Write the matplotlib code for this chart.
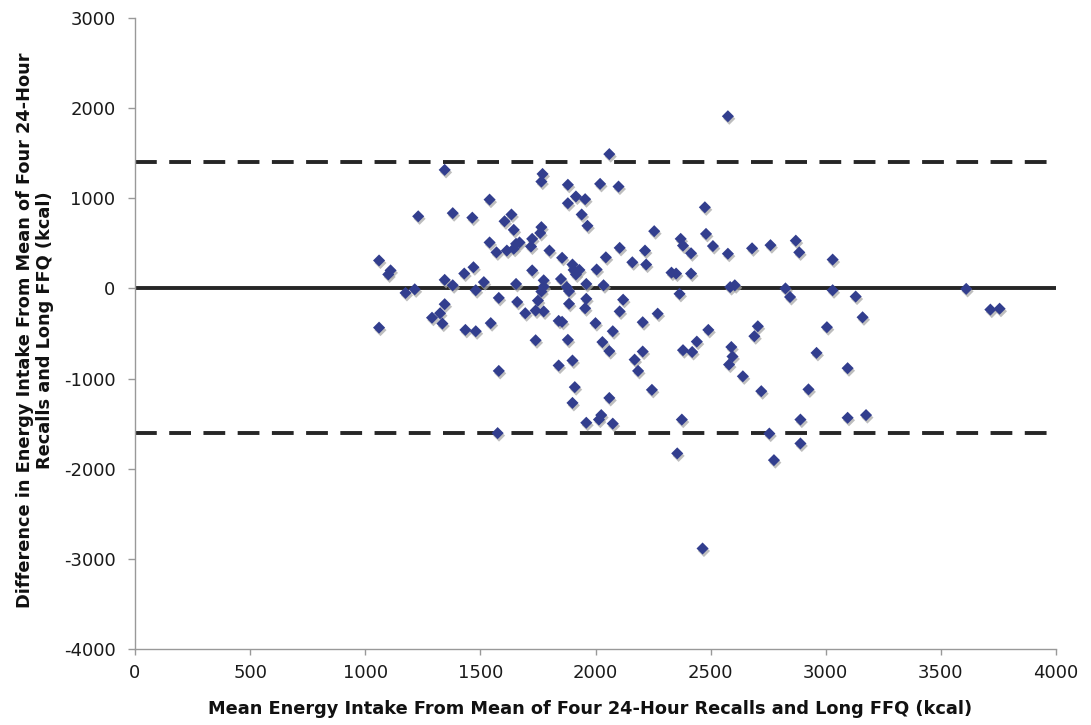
import matplotlib
matplotlib.use("Agg")
import matplotlib.pyplot as plt
import matplotlib.patheffects as pe
import numpy as np

# Bland-Altman: media de energía (x) vs diferencia (y), kcal
media_kcal = [
    2060, 1345, 1770, 1765, 1880, 2020, 2100, 1540, 1915, 1955,
    1880, 1230, 1380, 1465, 1635, 1605, 1940, 1965, 1645, 1765,
    1760, 1540, 1570, 1615, 1645, 1655, 1670, 1725, 1720, 1800,
    1855, 1060, 1110, 1100, 1900, 1905, 1930, 1915, 1725, 2005,
    2045, 2105, 1470, 1430, 1345, 1380, 1515, 1655, 1775, 1775,
    1850, 1875, 1885, 1960, 2035, 1215, 1175, 1480, 1765,
    1345, 1325, 1290, 1335, 1060, 1435, 1480, 1545, 1580, 1660,
    1695, 1740, 1750, 1775, 1840, 1855, 1885, 1960, 1955, 2000,
    2105, 2075, 1740, 1880, 2030, 2060, 1580, 1840, 1900, 1910,
    1900, 2060, 1960, 2025, 2015, 2075, 1575,
    2575, 2475, 2255, 2480, 2510, 2370, 2380, 2415, 2215, 2160,
    2220, 2575, 2680, 2760, 2870, 2885, 3030, 2330, 2350, 2415,
    2365, 2585, 2605, 2825, 2845, 3030, 3130, 2120,
    2205, 2270, 2170, 2205, 2185, 2245, 2375, 2355, 2380, 2420,
    2440, 2490, 2590, 2595, 2580, 2640, 2705, 2690, 2720, 2755,
    2775, 3005, 2960, 2925, 2890, 2890, 3095, 3160, 3095, 3175,
    3610, 3715, 3755, 2465,
]
diferencia_kcal = [
    1490, 1315, 1270, 1185, 1150, 1160, 1130, 985, 1020, 990,
    945, 800, 835, 785, 820, 745, 820, 695, 650, 680,
    615, 510, 400, 420, 440, 495, 510, 550, 465, 420,
    340, 310, 200, 155, 265, 205, 205, 155, 200, 210,
    345, 450, 235, 165, 95, 35, 70, 50, 90, 20,
    105, 15, -30, 50, 35, -10, -50, -20, -35,
    -175, -275, -325, -390, -435, -460, -475, -385, -105, -150,
    -275, -245, -135, -255, -360, -370, -170, -115, -220, -385,
    -255, -475, -575, -570, -595, -695, -915, -855, -800, -1095,
    -1270, -1215, -1490, -1405, -1455, -1500, -1605,
    1910, 900, 635, 605, 470, 550, 475, 390, 420, 290,
    265, 385, 445, 480, 530, 400, 320, 175, 165, 165,
    -60, 15, 35, 0, -95, -20, -90, -125,
    -375, -280, -790, -700, -915, -1125, -1455, -1830, -685, -705,
    -590, -460, -650, -755, -845, -975, -420, -530, -1140, -1610,
    -1905, -430, -715, -1120, -1455, -1720, -885, -320, -1435, -1405,
    -5, -235, -225, -2885,
]

sesgo = 0
limite_sup = 1400
limite_inf = -1600

x_ticks = [0, 500, 1000, 1500, 2000, 2500, 3000, 3500, 4000]
y_ticks = [-4000, -3000, -2000, -1000, 0, 1000, 2000, 3000]

fig = plt.figure(figsize=(10.91, 7.25), dpi=100)
ax = fig.add_axes([135 / 1091, 1 - 649 / 725, (1056 - 135) / 1091, (649 - 18) / 725])

color_linea = "#262626"
ax.axhline(sesgo, color=color_linea, lw=2.8, zorder=2)
for lim in (limite_sup, limite_inf):
    ax.axhline(lim, color=color_linea, lw=2.8, dashes=(5.6, 3.2), zorder=2)

ax.scatter(media_kcal, diferencia_kcal, marker="D", s=38, color="#323e8e",
           edgecolors="none", zorder=3,
           path_effects=[pe.SimplePatchShadow(offset=(1.0, -1.8), shadow_rgbFace="#a8a8a8", alpha=0.75),
                         pe.Normal()])

ax.set_xlim(0, 4000)
ax.set_ylim(-4000, 3000)
ax.set_xticks(x_ticks)
ax.set_yticks(y_ticks)
ax.set_xticklabels([str(v) for v in x_ticks], fontsize=13, color="#1a1a1a")
ax.set_yticklabels([str(v) for v in y_ticks], fontsize=13, color="#1a1a1a")

for lado in ("top", "right"):
    ax.spines[lado].set_visible(False)
for lado in ("left", "bottom"):
    ax.spines[lado].set_color("#999999")
    ax.spines[lado].set_linewidth(1.0)
ax.tick_params(axis="y", direction="out", length=5, width=1.0, color="#999999", pad=9)
ax.tick_params(axis="x", direction="out", length=4, width=1.0, color="#999999", pad=7)

fig.text(590 / 1091, 1 - 709 / 725,
         "Mean Energy Intake From Mean of Four 24-Hour Recalls and Long FFQ (kcal)",
         ha="center", va="center", fontsize=12.8, fontweight="bold", color="#111111")
fig.text(35 / 1091, 1 - 330 / 725,
         "Difference in Energy Intake From Mean of Four 24-Hour\nRecalls and Long FFQ (kcal)",
         ha="center", va="center", rotation=90, fontsize=12.8, fontweight="bold",
         color="#111111", linespacing=1.2)

fig.savefig("out.png", dpi=100)
